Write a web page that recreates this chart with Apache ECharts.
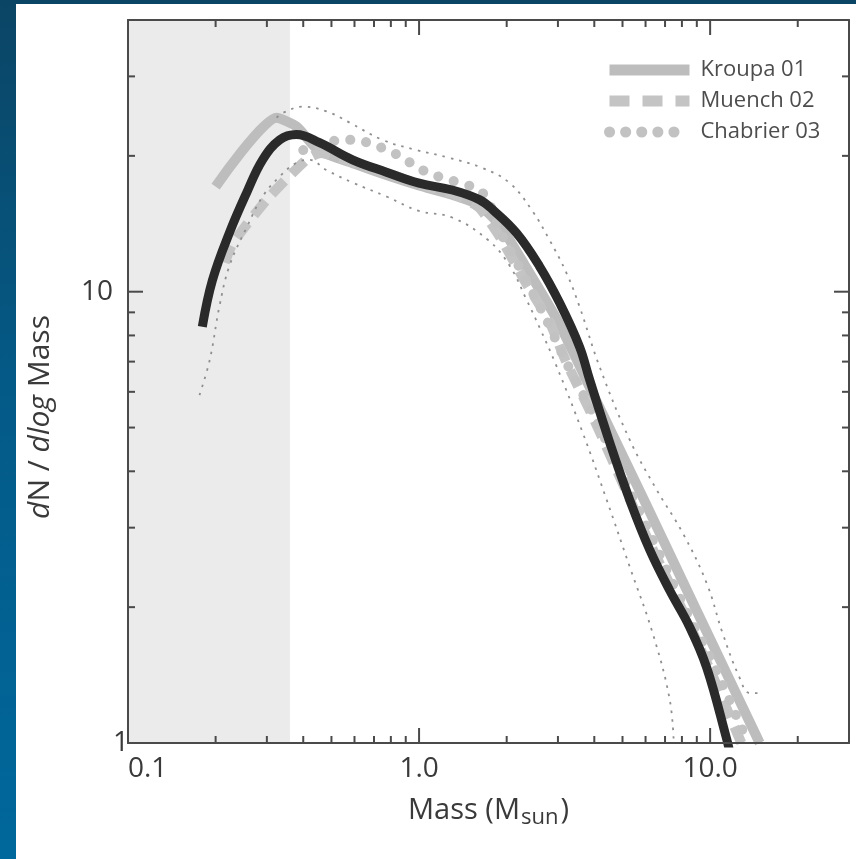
<!DOCTYPE html>
<html><head><meta charset="utf-8">
<script src="https://cdn.jsdelivr.net/npm/echarts@6/dist/echarts.min.js"></script>
<style>
html,body{margin:0;padding:0;width:856px;height:859px;overflow:hidden;}
body{background:linear-gradient(180deg,#0b4565 0%,#045a87 45%,#00689c 100%);}
#panel{position:absolute;left:16px;top:4px;width:840px;height:855px;background:#fff;}
#chart{position:absolute;left:0;top:0;width:856px;height:859px;}
</style></head><body>
<div id="panel"></div><div id="chart"></div>
<script>
// ---- data ----
const observedMass = [0.180, 0.195, 0.223, 0.256, 0.290, 0.332, 0.379, 0.455, 0.591, 0.773, 1.00, 1.30, 1.61, 1.79, 2.16, 2.59, 3.04, 3.56, 3.85, 4.52, 5.29, 6.20, 7.26, 8.50, 9.73, 11.4, 11.7];
const observedN    = [8.36, 10.6, 13.5, 16.6, 19.6, 21.7, 22.3, 21.4, 19.6, 18.4, 17.4, 16.8, 16.0, 15.2, 13.5, 11.4, 9.45, 7.55, 6.4, 4.63, 3.46, 2.68, 2.18, 1.81, 1.47, 1.02, 0.95];

const upperMass = [0.324, 0.340, 0.398, 0.481, 0.577, 0.749, 0.980, 1.27, 1.65, 2.05, 2.45, 2.81, 3.21, 3.56, 4.17, 5.29, 6.55, 8.05, 9.73, 11.04, 12.6, 13.7, 15.15];
const upperN    = [24.3, 24.9, 25.7, 25.1, 23.7, 21.7, 20.6, 19.8, 18.8, 17.4, 15.1, 13.0, 11.0, 9.26, 6.82, 4.70, 3.64, 2.92, 2.26, 1.75, 1.40, 1.29, 1.29];

const lowerMass = [0.176, 0.191, 0.206, 0.223, 0.256, 0.290, 0.332, 0.379, 0.420, 0.481, 0.591, 0.773, 1.00, 1.30, 1.73, 2.05, 2.34, 2.60, 2.95, 3.65, 4.41, 5.29, 6.35, 7.26, 7.50];
const lowerN    = [5.9, 7.07, 9.26, 11.4, 13.9, 16.25, 18.0, 19.3, 19.6, 18.6, 17.45, 16.25, 15.1, 14.6, 13.0, 11.4, 9.6, 8.3, 6.9, 4.87, 3.46, 2.46, 1.75, 1.25, 1.0];

const kroupaMass = [0.20, 0.324, 0.38, 0.45, 0.60, 0.80, 1.0, 1.3, 1.6, 1.9, 2.3, 3.0, 4.0, 6.0, 8.0, 10.0, 14.8];
const kroupaN    = [17.1, 24.3, 23.2, 20.6, 19.2, 18.0, 17.2, 16.4, 15.6, 14.0, 11.5, 8.6, 5.85, 3.4, 2.3, 1.7, 1.0];

const muenchMass = [0.215, 0.229, 0.30, 0.41, 0.46, 0.60, 0.80, 1.0, 1.3, 1.6, 1.9, 2.3, 2.8, 3.2, 4.0, 6.0, 8.0, 10.0, 12.8];
const muenchN    = [11.6, 12.8, 16.0, 19.6, 20.3, 19.3, 18.2, 17.3, 16.5, 15.4, 13.2, 10.6, 8.6, 7.0, 5.2, 2.9, 1.98, 1.45, 1.0];

const chabrierMass = [0.40, 0.48, 0.533, 0.61, 0.69, 0.78, 0.88, 0.98, 1.11, 1.27, 1.61, 1.75, 1.9, 2.2, 2.74, 3.21, 4.0, 6.0, 8.0, 10.0, 13.5];
const chabrierN    = [20.6, 21.3, 21.7, 21.7, 21.2, 20.6, 19.8, 18.9, 18.2, 17.7, 16.8, 15.6, 13.6, 11.4, 8.67, 6.96, 5.3, 3.05, 2.05, 1.55, 1.0];

const seriesNames = ['Kroupa 01', 'Muench 02', 'Chabrier 03'];
const shadedMassRange = [0.1, 0.36];

const xRange = [0.1, 30];
const yRange = [1, 40];
const xMajorTicks = [1, 10];
const xTickLabels = ['0.1', '1.0', '10.0'];
const xLabelValues = [0.1, 1, 10];
const xMinorTicks = [0.2, 0.3, 0.4, 0.5, 0.6, 0.7, 0.8, 0.9, 2, 3, 4, 5, 6, 7, 8, 9, 20];
const yMajorTicks = [10];
const yTickLabels = ['1', '10'];
const yLabelValues = [1, 10];
const yMinorTicks = [2, 3, 4, 5, 6, 7, 8, 9, 20, 30];

// ---- helpers ----
const zip = (a, b) => a.map((v, i) => [v, b[i]]);
const AXIS_COLOR = '#4a4a4a';
const TEXT_COLOR = '#3a3a3a';
const FONT = 'Open Sans';

function nearestLabel(v, vals, labels) {
  let best = 0, bd = Infinity;
  vals.forEach((t, i) => { const d = Math.abs(Math.log10(v) - Math.log10(t)); if (d < bd) { bd = d; best = i; } });
  return bd < 0.01 ? labels[best] : '';
}

function tickSeries(values, len, isX) {
  return {
    type: 'custom', z: 10, silent: true, clip: false,
    data: values.map(v => isX ? [v, yRange[0]] : [xRange[0], v]),
    renderItem: function (params, api) {
      const st = { stroke: AXIS_COLOR, lineWidth: 2 };
      if (isX) {
        const v = api.value(0);
        const a = api.coord([v, yRange[0]]), b = api.coord([v, yRange[1]]);
        return { type: 'group', children: [
          { type: 'line', shape: { x1: a[0], y1: a[1], x2: a[0], y2: a[1] - len }, style: st },
          { type: 'line', shape: { x1: b[0], y1: b[1], x2: b[0], y2: b[1] + len }, style: st }
        ]};
      } else {
        const v = api.value(1);
        const a = api.coord([xRange[0], v]), b = api.coord([xRange[1], v]);
        return { type: 'group', children: [
          { type: 'line', shape: { x1: a[0], y1: a[1], x2: a[0] + len, y2: a[1] }, style: st },
          { type: 'line', shape: { x1: b[0], y1: b[1], x2: b[0] - len, y2: b[1] }, style: st }
        ]};
      }
    }
  };
}

const chart = echarts.init(document.getElementById('chart'), null, { renderer: 'canvas' });

const baseAxis = {
  type: 'log', logBase: 10, z: 10,
  axisLine: { show: true, lineStyle: { color: AXIS_COLOR, width: 2 } },
  axisTick: { show: false }, minorTick: { show: false },
  splitLine: { show: false }, minorSplitLine: { show: false }
};

const lineSeries = (name, mass, n, z, smooth, lineStyle) => ({
  type: 'line', name: name, data: zip(mass, n), showSymbol: false, symbol: 'none', smooth: smooth,
  z: z, itemStyle: { color: lineStyle.color }, lineStyle: lineStyle
});

chart.setOption({
  animation: false,
  backgroundColor: 'transparent',
  textStyle: { fontFamily: FONT },
  grid: { left: 128, right: 7, top: 20, bottom: 116, containLabel: false },
  legend: {
    show: true, orient: 'vertical', left: 599, top: 54,
    itemWidth: 80, itemHeight: 14, itemGap: 9,
    itemStyle: { opacity: 0 },
    textStyle: { fontSize: 22, color: '#4d4d4d', fontFamily: FONT, padding: [0, 0, 0, 6] },
    data: [
      { name: seriesNames[0], lineStyle: { width: 11, type: 'solid', cap: 'butt' } },
      { name: seriesNames[1], lineStyle: { width: 11, type: [20, 13], cap: 'butt' } },
      { name: seriesNames[2], lineStyle: { width: 11, type: [0.1, 16], cap: 'round' } }
    ],
    selectedMode: false
  },
  xAxis: [
    Object.assign({}, baseAxis, {
      position: 'bottom', min: xRange[0], max: xRange[1],
      axisLabel: {
        show: true, fontSize: 28, color: TEXT_COLOR, fontFamily: FONT, margin: 12,
        showMaxLabel: false, alignMinLabel: 'left',
        formatter: v => nearestLabel(v, xLabelValues, xTickLabels)
      },
      name: 'Mass (M{sub|sun})', nameLocation: 'middle', nameGap: 50,
      nameTextStyle: { fontSize: 29, color: TEXT_COLOR, fontFamily: FONT,
        rich: { sub: { fontSize: 22, color: TEXT_COLOR, fontFamily: FONT, verticalAlign: 'bottom', padding: [14, 2, 0, 1] } } }
    }),
    Object.assign({}, baseAxis, { position: 'top', min: xRange[0], max: xRange[1], axisLabel: { show: false } })
  ],
  yAxis: [
    Object.assign({}, baseAxis, {
      position: 'left', min: yRange[0], max: yRange[1],
      axisLabel: {
        show: true, fontSize: 28, color: TEXT_COLOR, fontFamily: FONT, margin: 15,
        showMaxLabel: false, alignMinLabel: 'bottom',
        formatter: v => nearestLabel(v, yLabelValues, yTickLabels)
      }
    }),
    Object.assign({}, baseAxis, { position: 'right', min: yRange[0], max: yRange[1], axisLabel: { show: false } })
  ],
  graphic: [{
    type: 'text', x: 40, y: 417, rotation: Math.PI / 2, silent: true,
    style: {
      text: '{i|d}N / {i|dlog} Mass', fill: TEXT_COLOR, fontSize: 30, fontFamily: FONT,
      align: 'center', verticalAlign: 'middle',
      rich: { i: { fontStyle: 'italic', fontSize: 30, fill: TEXT_COLOR, fontFamily: FONT } }
    }
  }],
  series: [
    {
      type: 'line', name: '_shade', data: [], z: 1, silent: true,
      markArea: { silent: true, itemStyle: { color: '#ebebeb' },
        data: [[{ xAxis: shadedMassRange[0] }, { xAxis: shadedMassRange[1] }]] }
    },
    lineSeries(seriesNames[0], kroupaMass, kroupaN, 2, 0.2, { color: '#bdbdbd', width: 10 }),
    lineSeries(seriesNames[1], muenchMass, muenchN, 3, 0.2, { color: '#c4c4c4', width: 10, type: [18, 10] }),
    lineSeries(seriesNames[2], chabrierMass, chabrierN, 4, 0.3, { color: '#c2c2c2', width: 10, type: [0.1, 16], cap: 'round' }),
    lineSeries('upper', upperMass, upperN, 5, 0.4, { color: '#8f8f8f', width: 1.8, type: [2.5, 6] }),
    lineSeries('lower', lowerMass, lowerN, 5, 0.4, { color: '#8f8f8f', width: 1.8, type: [2.5, 6] }),
    lineSeries('observed', observedMass, observedN, 6, 0.4, { color: '#2a2a2a', width: 9 }),
    tickSeries(xMajorTicks, 15, true),
    tickSeries(xMinorTicks, 7, true),
    tickSeries(yMajorTicks, 15, false),
    tickSeries(yMinorTicks, 7, false)
  ]
});
</script>
</body></html>
